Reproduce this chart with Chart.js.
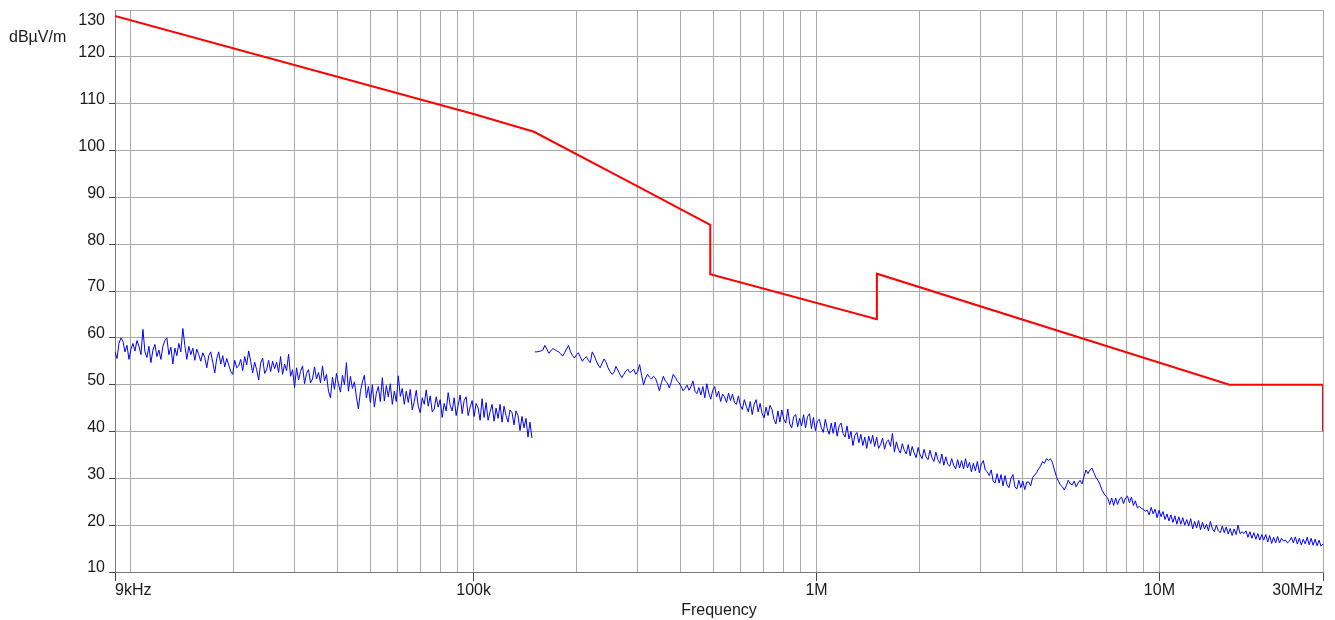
<!DOCTYPE html>
<html>
<head>
<meta charset="utf-8">
<title>Frequency scan</title>
<script src="https://cdn.jsdelivr.net/npm/chart.js@4.4.1/dist/chart.umd.min.js"></script>
<style>
    html, body { margin: 0; padding: 0; background: #fff; }
    #wrap { width: 1335px; height: 620px; }
</style>
</head>
<body>
<div id="wrap"><canvas id="scanChart" width="1335" height="620"></canvas></div>
<script>
// Limit line, frequency in Hz and level in dBµV/m
const limitFreq = [9e3, 100e3, 150e3, 300e3, 490e3, 490e3, 1.5e6, 1.5e6, 16e6, 30e6, 30e6];
const limitLevel = [128.7, 107.8, 104, 92.4, 84.1, 73.6, 64, 73.7, 50, 50, 40];

// Measured trace, band A: 9 kHz .. 148 kHz
const bandAStart = 9e3;
const bandAStop = 148e3;
const bandALevel = [
    57, 55.6, 58.8, 60, 59.2, 57, 58.4, 55.4, 57.6, 58.8,
    57.2, 59.4, 58.2, 56.4, 61.8, 57, 55.8, 58.2, 54.7, 57.4,
    58.6, 56, 57.4, 55.4, 58.2, 59.4, 60, 56.4, 58, 54.4,
    57.8, 56.2, 58.8, 57, 62, 58.4, 55.4, 58.2, 56.4, 57.8,
    55.2, 57.6, 56.4, 55, 56.8, 55.8, 53.6, 56.2, 57, 54.8,
    52.5, 55.6, 57, 54.4, 56.2, 53.8, 55.6, 54.2, 52.8, 52.2,
    55.2, 53.6, 54, 55.4, 53, 56, 54.2, 57.2, 55, 52.5,
    54.8, 53.2, 51, 54.6, 55.7, 52.4, 53.2, 55.2, 52.8, 55,
    53.4, 54.8, 52.6, 56, 52.2, 54.4, 53, 56.5, 51.8, 53.2,
    49.4, 53.6, 51, 52.8, 54, 50.2, 52.4, 53.2, 50.4, 51.2,
    53.8, 51.2, 52.6, 50.4, 54, 50.8, 52.2, 48.6, 47.2, 51.6,
    49, 52.4, 50.2, 48.4, 52, 50, 54.7, 48.6, 51.8, 49.2,
    50.6, 47.4, 44.8, 48.5, 50.6, 52, 47.2, 49.6, 46.2, 50,
    45.2, 48.2, 49.6, 46.4, 51.5, 46.5, 49.8, 47.4, 50.2, 45.8,
    48.6, 46.4, 51.9, 47.5, 49.2, 45.8, 48.6, 46.2, 49, 44.6,
    46.4, 48.8, 45.4, 44, 47.2, 45.8, 48.9, 45.4, 47.6, 44.2,
    44.8, 47.4, 45.2, 46.8, 43, 46, 44.4, 48.3, 45.6, 44.4,
    47.2, 43.4, 45.6, 47.8, 43.8, 46.6, 47.4, 43.4, 45.2, 46.6,
    43.2, 46, 45, 42.4, 47, 43, 46.2, 42.4, 44.2, 45.8,
    42.2, 45, 42.8, 45.8, 42, 45.4, 43.4, 42, 44.6, 44,
    41.4, 44.4, 43.4, 40.2, 43.2, 40.8, 42.8, 38.8, 42, 38.6
];

// Measured trace, band B: 151 kHz .. 30 MHz
const bandBStart = 151e3;
const bandBStop = 30e6;
const bandBLevel = [
    57, 57, 57.1, 57.2, 57.4, 58.4, 57.6, 56.7, 57.2, 57.7,
    57.5, 57.2, 57, 56.6, 56.1, 56.8, 57.6, 58.4, 57, 56.2,
    55.7, 56.4, 56.8, 55.9, 55, 55.6, 56, 55.2, 54.7, 57,
    56.2, 55.1, 54.2, 53.6, 54.6, 55.5, 54.8, 53.6, 52.8, 52.2,
    52.6, 53.9, 53.1, 52.2, 51.5, 52.2, 52.9, 53.3, 52.6, 52.8,
    53.3, 52.2, 52.8, 54.3, 52, 50, 51.4, 52.2, 51.6, 51.2,
    51.8, 51.4, 50.2, 48.7, 50.4, 51.8, 50.8, 50.4, 49.3, 50.6,
    52.2, 51.6, 50.8, 50.4, 49.6, 48.7, 49.2, 49.9, 48.8, 49.6,
    50.8, 48.6, 48.1, 49.4, 47.8, 49.6, 47.2, 50.2, 48.2, 46.9,
    48.8, 49.6, 47.4, 48.6, 46.4, 48, 47.4, 46.2, 48.2, 46.6,
    48, 46.2, 45.8, 47.6, 45.6, 44.7, 46.8, 45.4, 44.2, 46.4,
    43.6, 45.8, 46.8, 44.2, 46, 43.8, 42.9, 45.2, 43.4, 45.6,
    44.7, 42.6, 41.6, 44.4, 42, 44.6, 42.6, 41.8, 44.8, 41.6,
    40.8, 43.2, 43.6, 41, 42.8, 41.2, 43.6, 40.8, 43.2, 43.8,
    40.6, 43, 40.2, 42.2, 42.6, 40.8, 39.8, 42.6, 40.6, 39.4,
    41.8, 39.6, 42, 39, 41.2, 41.8, 39.6, 38.8, 41.2, 38.4,
    40, 37, 39.2, 39.8, 37.6, 39.4, 37, 38.8, 36.4, 39,
    37.4, 39.2, 36.8, 38.8, 36.4, 37.2, 38.6, 36.2, 37.8, 38.2,
    36.8, 39.6, 35.6, 37.8, 36.2, 35.4, 37.4, 36, 35.2, 37.2,
    34.8, 36.8, 35.4, 34.4, 36.6, 35, 34.2, 36.2, 34.6, 34,
    36, 34.4, 33.6, 35.6, 34, 33.2, 35.2, 32.8, 34.6, 33,
    32.6, 34.2, 32.8, 32, 34, 32.2, 33.8, 32, 34.2, 32.2,
    33.4, 31.4, 33.2, 31.6, 33.6, 31.2, 33, 33.8, 31.8, 31.4,
    30.6, 31.8, 29.4, 29, 31, 29, 30.8, 28.4, 30.6, 28.6,
    28, 30, 30.8, 28.2, 27.7, 29.6, 28, 29.4, 27.6, 29.2,
    29.2, 28.4, 30.2, 30.7, 31.2, 32, 32.6, 33.6, 33.2, 34.2,
    33.8, 34.2, 33.4, 31.8, 30.4, 29.4, 28.6, 28.2, 27.5, 28.4,
    29.6, 28.8, 28.6, 29.4, 28.2, 29, 29.6, 28.8, 30.4, 31.8,
    31, 31.8, 32.2, 31.2, 30.2, 29.6, 28.8, 27.6, 26.8, 26.2,
    25.8, 24.4, 25.8, 24.2, 25.8, 24.4, 25.6, 26, 24.6, 25.8,
    26.2, 24.8, 26, 24.2, 25.2, 23.7, 24, 23.6, 23.4, 23,
    23.2, 22.2, 23.8, 22.4, 23.4, 21.6, 23.2, 21.8, 22.9, 21.2,
    22.4, 20.9, 22.2, 20.6, 22, 20.2, 21.8, 20.2, 21.6, 20,
    21.2, 19.8, 21.4, 19.2, 20.8, 19.4, 21, 19, 20.6, 19.2,
    20.2, 18.8, 20.8, 19.2, 18.6, 20, 18.8, 18.4, 19.8, 18.4,
    19.6, 18.1, 19.3, 17.8, 19.2, 18, 20, 18.2, 18.6, 18.2,
    18.8, 17.4, 18.6, 17.2, 18.4, 17, 18.2, 16.8, 18, 16.8,
    18, 16.4, 17.8, 16.1, 17.4, 16.2, 17.6, 16.2, 17.2, 16.6,
    16.8, 16.2, 16.6, 17.4, 16.2, 17.5, 16, 17.2, 15.8, 17,
    16, 17.4, 15.8, 17.2, 15.7, 17, 15.6, 16.8, 15.5, 16
];

// Axis
const gridFreqs = [
    9e3,
    1e4, 2e4, 3e4, 4e4, 5e4, 6e4, 7e4, 8e4, 9e4,
    1e5, 2e5, 3e5, 4e5, 5e5, 6e5, 7e5, 8e5, 9e5,
    1e6, 2e6, 3e6, 4e6, 5e6, 6e6, 7e6, 8e6, 9e6,
    1e7, 2e7, 3e7
];
const freqLabels = { 9000: '9kHz', 100000: '100k', 1000000: '1M', 10000000: '10M', 30000000: '30MHz' };
const levelMin = 10;
const levelMax = 130;
const levelStep = 10;

document.addEventListener('DOMContentLoaded', function() {
    const font = "Arial, 'Liberation Sans', sans-serif";
    const textColor = '#1a1a1a';

    // spread the sweep points evenly on the log axis
    function sweep(start, stop, levels) {
        const k = Math.log(stop / start) / (levels.length - 1);
        return levels.map((v, i) => ({ x: start * Math.exp(k * i), y: v }));
    }

    const extraText = {
        id: 'extraText',
        afterDraw(chart) {
            const c = chart.ctx;
            c.save();
            c.fillStyle = textColor;
            c.font = '16px ' + font;
            c.textBaseline = 'middle';
            c.textAlign = 'left';
            c.fillText('dBµV/m', 9, 38);
            // top label sits a bit lower so it is not cut off
            c.textAlign = 'right';
            c.fillText(String(levelMax), 105, 21);
            c.restore();
        }
    };

    const ctx = document.getElementById('scanChart').getContext('2d');
    new Chart(ctx, {
        type: 'line',
        data: {
            datasets: [{
                label: 'Limit',
                data: limitFreq.map((f, i) => ({ x: f, y: limitLevel[i] })),
                borderColor: '#ff0000',
                borderWidth: 2,
                pointRadius: 0,
                tension: 0
            }, {
                label: 'Scan A',
                data: sweep(bandAStart, bandAStop, bandALevel),
                borderColor: '#0000ff',
                borderWidth: 1,
                pointRadius: 0,
                tension: 0
            }, {
                label: 'Scan B',
                data: sweep(bandBStart, bandBStop, bandBLevel),
                borderColor: '#0000ff',
                borderWidth: 1,
                pointRadius: 0,
                tension: 0
            }]
        },
        options: {
            responsive: false,
            animation: false,
            devicePixelRatio: 1,
            layout: { padding: { top: 10, right: 12, left: 0, bottom: 0 } },
            plugins: {
                legend: { display: false },
                tooltip: { enabled: false }
            },
            scales: {
                x: {
                    type: 'logarithmic',
                    min: 9e3,
                    max: 3e7,
                    afterBuildTicks: function(axis) {
                        axis.ticks = gridFreqs.map(v => ({ value: v }));
                    },
                    afterFit: function(axis) {
                        axis.height = 48;
                        axis.paddingLeft = 0;
                        axis.paddingRight = 0;
                    },
                    grid: {
                        color: '#a8a8a8',
                        lineWidth: 1,
                        tickLength: 9,
                        tickColor: function(c) {
                            return c.tick && freqLabels[c.tick.value] ? '#444' : 'rgba(0,0,0,0)';
                        }
                    },
                    border: { color: '#777', width: 1 },
                    ticks: {
                        autoSkip: false,
                        maxRotation: 0,
                        padding: 0,
                        align: 'inner',
                        color: textColor,
                        font: { family: font, size: 16 },
                        callback: function(value) {
                            return freqLabels[value] || '';
                        }
                    },
                    title: {
                        display: true,
                        text: 'Frequency',
                        color: textColor,
                        font: { family: font, size: 16 },
                        padding: { top: 0, bottom: 0 }
                    }
                },
                y: {
                    min: levelMin,
                    max: levelMax,
                    afterFit: function(axis) {
                        axis.width = 115;
                        axis.paddingTop = 0;
                        axis.paddingBottom = 0;
                    },
                    grid: {
                        color: '#a8a8a8',
                        lineWidth: 1,
                        tickLength: 6,
                        tickColor: function(c) {
                            return c.tick && c.tick.value === levelMax ? 'rgba(0,0,0,0)' : '#444';
                        }
                    },
                    border: { color: '#777', width: 1 },
                    ticks: {
                        stepSize: levelStep,
                        padding: 4,
                        labelOffset: -4,
                        color: textColor,
                        font: { family: font, size: 16 },
                        callback: function(value) {
                            return value === levelMax ? '' : String(value);
                        }
                    }
                }
            }
        },
        plugins: [extraText]
    });
});
</script>
</body>
</html>
